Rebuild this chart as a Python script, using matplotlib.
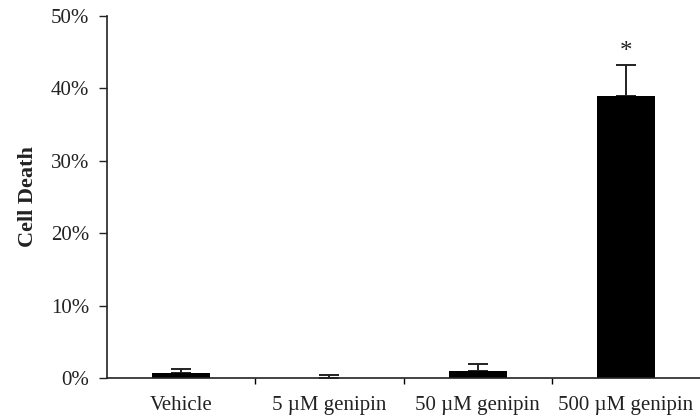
import matplotlib
matplotlib.use("Agg")
import matplotlib.pyplot as plt
import numpy as np
from matplotlib.ticker import FuncFormatter, FixedLocator

categories = ["Vehicle", "5 µM genipin", "50 µM genipin", "500 µM genipin"]
values = [0.7, 0.0, 1.0, 38.9]
errors = [0.6, 0.4, 0.9, 4.3]
yticks = [0, 10, 20, 30, 40, 50]
star_label = "*"

plt.rcParams['font.family'] = ['Liberation Serif', 'DejaVu Serif']

fig = plt.figure(figsize=(7, 4.2), dpi=100)
ax = fig.add_axes([107/700, 42/420, 593/700, 362/420])

x = np.arange(len(categories))
ax.bar(x, values, width=0.39, color='black', zorder=2)
ax.errorbar(x, values, yerr=[np.zeros(len(errors)), errors], fmt='none',
            ecolor='#222222', elinewidth=1.4, capsize=7, capthick=1.4, zorder=1)

ax.text(x[3], 45.0, star_label, ha='center', va='center', fontsize=18, color='#222222')

ax.set_xlim(-0.5, len(categories) - 0.5)
ax.set_ylim(0, 50)
ax.set_yticks(yticks)
ax.yaxis.set_major_formatter(FuncFormatter(lambda v, p: f"{int(v)}%"))
ax.set_xticks(x)
ax.set_xticklabels(categories)
ax.xaxis.set_minor_locator(FixedLocator(x[:-1] + 0.5))
ax.tick_params(axis='x', which='major', length=0, pad=13, labelsize=15, labelcolor='#222222')
ax.tick_params(axis='x', which='minor', length=4, width=1, direction='out')
ax.tick_params(axis='y', length=6, width=1, direction='out', labelsize=15, pad=7, colors='#222222')
ax.set_ylabel("Cell Death", fontsize=16, fontweight='bold', labelpad=9, color='#222222')

for s in ['top', 'right']:
    ax.spines[s].set_visible(False)
for s in ['left', 'bottom']:
    ax.spines[s].set_linewidth(1.2)
    ax.spines[s].set_color('#222222')

fig.savefig("out.png", dpi=100)
